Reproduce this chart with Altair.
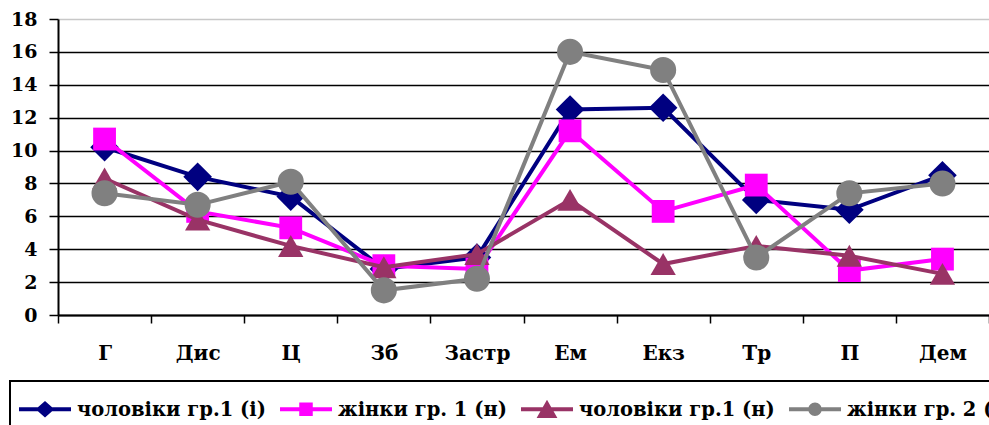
import altair as alt
import pandas as pd

categories = ["Г", "Дис", "Ц", "Зб", "Застр", "Ем", "Екз", "Тр", "П", "Дем"]
series_names = ["чоловіки гр.1 (і)", "жінки гр. 1 (н)", "чоловіки гр.1 (н)", "жінки гр. 2 (і)"]
men_g1_i = [10.2, 8.4, 7.2, 2.8, 3.5, 12.5, 12.6, 7.0, 6.4, 8.5]
women_g1_n = [10.7, 6.3, 5.3, 3.0, 2.8, 11.2, 6.3, 7.9, 2.7, 3.4]
men_g1_n = [8.3, 5.8, 4.2, 2.9, 3.7, 7.0, 3.1, 4.2, 3.6, 2.5]
women_g2_i = [7.4, 6.7, 8.1, 1.5, 2.2, 16.0, 14.9, 3.5, 7.4, 8.0]
y_ticks = [0, 2, 4, 6, 8, 10, 12, 14, 16, 18]

colors = ["#000080", "#FF00FF", "#993366", "#808080"]
shapes = ["diamond", "square", "triangle-up", "circle"]
sizes = [820, 520, 640, 680]

all_values = [men_g1_i, women_g1_n, men_g1_n, women_g2_i]
rows = []
for name, vals in zip(series_names, all_values):
    for c, v in zip(categories, vals):
        rows.append({"cat": c, "value": v, "series": name})
df = pd.DataFrame(rows)

FONT = "DejaVu Serif"

x_enc = alt.X(
    "cat:N",
    sort=categories,
    scale=alt.Scale(type="band", domain=categories, paddingInner=0, paddingOuter=0),
    axis=alt.Axis(
        title=None, tickBand="extent", tickSize=8, tickColor="black", tickWidth=1.5,
        domainColor="black", domainWidth=2, labelFont=FONT, labelFontWeight="bold",
        labelFontSize=20, labelColor="black", labelPadding=20, labelAngle=0, grid=False,
    ),
)
y_enc = alt.Y(
    "value:Q",
    scale=alt.Scale(domain=[0, 18], nice=False, zero=True),
    axis=alt.Axis(
        title=None, values=y_ticks, tickSize=9, tickColor="black", tickWidth=1.5,
        domainColor="black", domainWidth=2, labelFont=FONT, labelFontWeight="bold",
        labelFontSize=19, labelColor="black", labelPadding=12,
        grid=True, gridWidth=1.5,
        gridColor={"condition": {"test": "datum.value == 18", "value": "#c8c8c8"}, "value": "black"},
    ),
)
color_enc = alt.Color(
    "series:N",
    scale=alt.Scale(domain=series_names, range=colors),
    legend=None,
)

base = alt.Chart(df)
layers = []
for name, shp, sz in zip(series_names, shapes, sizes):
    sub = base.transform_filter(alt.datum.series == name)
    layers.append(sub.mark_line(strokeWidth=4, opacity=1).encode(x=x_enc, y=y_enc, color=color_enc))
    layers.append(
        sub.mark_point(filled=True, shape=shp, size=sz, opacity=1, strokeWidth=0).encode(
            x=x_enc, y=y_enc, color=color_enc
        )
    )

# legend symbols: a line with a marker, as custom paths (unit = 26 px), shifted up a little
dy = -0.27
t = 0.08
def f(v):
    return f"{v:.3f}"
def line_with(marker):
    return (
        f"M-1,{f(dy - t)}L-0.15,{f(dy - t)}L-0.15,{f(dy + t)}L-1,{f(dy + t)}Z "
        f"M0.15,{f(dy - t)}L1,{f(dy - t)}L1,{f(dy + t)}L0.15,{f(dy + t)}Z " + marker
    )

legend_paths = [
    line_with(f"M-0.36,{f(dy)}L0,{f(dy - 0.32)}L0.36,{f(dy)}L0,{f(dy + 0.32)}Z"),
    line_with(f"M-0.26,{f(dy - 0.26)}L0.26,{f(dy - 0.26)}L0.26,{f(dy + 0.26)}L-0.26,{f(dy + 0.26)}Z"),
    line_with(f"M0,{f(dy - 0.36)}L0.4,{f(dy + 0.34)}L-0.4,{f(dy + 0.34)}Z"),
    line_with(f"M-0.26,{f(dy)}A0.26,0.26 0 1,1 0.26,{f(dy)}A0.26,0.26 0 1,1 -0.26,{f(dy)}Z"),
]

legend_props = dict(
    title=None, orient="none", legendX=-48, legendY=362, direction="horizontal",
    columns=4, symbolSize=2704, symbolStrokeWidth=0, symbolOpacity=1,
    labelFont=FONT, labelFontWeight="bold", labelFontSize=19.5, labelColor="black",
    labelBaseline="alphabetic", labelOffset=6, columnPadding=14, padding=9,
    strokeColor="black", labelLimit=400,
)

legend_layer = base.transform_filter("false").mark_point(filled=True, opacity=1, strokeWidth=0).encode(
    x=x_enc,
    y=y_enc,
    color=alt.Color(
        "series:N",
        scale=alt.Scale(domain=series_names, range=colors),
        legend=alt.Legend(**legend_props),
    ),
    shape=alt.Shape(
        "series:N",
        scale=alt.Scale(domain=series_names, range=legend_paths),
        legend=alt.Legend(**legend_props),
    ),
)

chart = alt.layer(*layers, legend_layer).resolve_scale(
    color="independent", shape="independent"
).properties(
    width=931,
    height=296,
    padding={"left": 58, "top": 19, "right": 0, "bottom": 110},
    autosize=alt.AutoSizeParams(type="none"),
    background="white",
).configure_view(stroke=None).configure_legend(strokeWidth=2)

chart.save("out.html", embed_options={"renderer": "svg", "actions": False})
